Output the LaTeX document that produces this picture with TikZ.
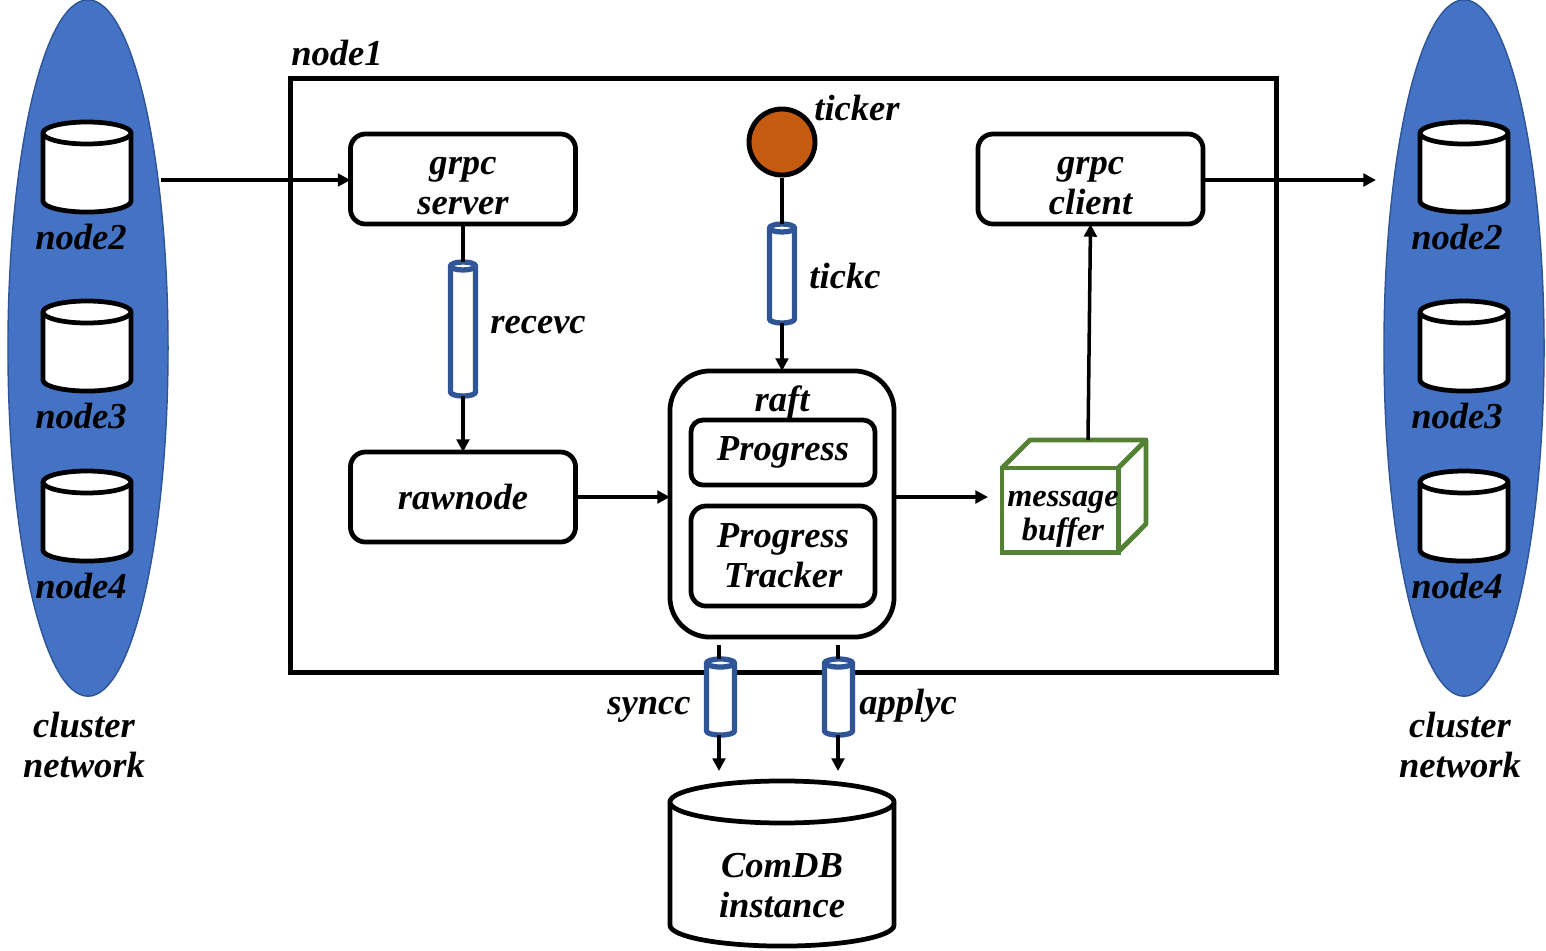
\documentclass[tikz,border=0pt]{standalone}
\usepackage{fontspec}
\setmainfont{Liberation Serif}
\usetikzlibrary{positioning,shapes.geometric,arrows.meta}
\definecolor{netblue}{HTML}{4472C4}
\definecolor{chanblue}{HTML}{2F5597}
\definecolor{tickorange}{HTML}{C55A11}
\definecolor{bufgreen}{HTML}{548235}
\tikzset{
  lbl/.style={font=\fontsize{10.4}{11.4}\selectfont\bfseries\itshape, align=center, inner sep=0pt},
  netcloud/.style={ellipse, draw=chanblue, fill=netblue, line width=0.4pt, inner sep=0pt, minimum width=1.6cm, minimum height=6.96cm},
  cylspot/.style={rectangle, inner sep=0pt, outer sep=0pt},
  dbline/.style={draw=black, fill=white, line width=1.35pt},
  chanline/.style={draw=chanblue, fill=white, line width=1.5pt},
  box/.style={rectangle, rounded corners=0.15cm, draw=black, line width=1.35pt, outer sep=0pt, lbl, minimum width=2.25cm, minimum height=0.9cm},
  cubeline/.style={draw=bufgreen, line width=1.4pt, line join=round},
  conn/.style={line width=1pt, draw=black},
  arr/.style={conn, -{Triangle[length=3.6pt,width=3.6pt]}},
}
% body of a cylinder over a named node: node, half width, cap radius, line style
\newcommand{\cylbody}[4]{
  \filldraw[#4] ([yshift=-#3]#1.north west) arc[start angle=180,end angle=0,x radius=#2,y radius=#3]
    -- ([yshift=#3]#1.south east) arc[start angle=0,end angle=-180,x radius=#2,y radius=#3] -- cycle;
  \draw[#4] ([yshift=-#3]#1.north west) arc[start angle=180,end angle=360,x radius=#2,y radius=#3];
}
\begin{document}
\begin{tikzpicture}[x=0.01cm,y=-0.01cm]
\useasboundingbox (0,0) rectangle (1546,950);
% outer box of the node
\node[draw, line width=1.4pt, minimum width=9.85cm, minimum height=5.93cm, inner sep=0pt] (node1) at (783.5,375.5) {};
\node[lbl] (node1lbl) at (337,53) {node1};

% the two cluster networks with their members
\foreach \side/\cx/\tx/\lx in {l/88/87/81, r/1464/1464/1457} {
    \node[netcloud] (net\side) at (\cx,348) {};
    \foreach \n/\y in {2/167, 3/346, 4/516} {
        \node[cylspot, minimum width=0.88cm, minimum height=0.9cm] (db\side\n) at (\tx,\y) {};
        \cylbody{db\side\n}{0.44cm}{0.11cm}{dbline}
        \node[lbl] (dbl\side\n) at (\lx,\y+70) {node\n};
    }
}
\node[lbl] (clusterl) at (84,745) {cluster\\network};
\node[lbl] (clusterr) at (1460,745) {cluster\\network};

% boxes
\node[box] (server) at (463,179) {};
\node[lbl] (serverlbl) at (463,186) {grpc\\server};
\node[box] (client) at (1090.5,179) {};
\node[lbl] (clientlbl) at (1090.5,186) {grpc\\client};
\node[box] (rawnode) at (463,497) {\raisebox{-1pt}{rawnode}};
\node[box, minimum width=2.24cm, minimum height=2.66cm, rounded corners=0.4cm] (raft) at (782,504) {};
\node[lbl] (raftlbl) at (782,402) {raft};
\node[box, minimum width=1.84cm, minimum height=0.65cm, rounded corners=0.12cm] (progress) at (783,452.5) {Progress};
\node[box, minimum width=1.84cm, minimum height=1cm, rounded corners=0.15cm] (tracker) at (783,556) {Progress\\Tracker};

% ticker
\node[circle, draw, fill=tickorange, line width=1.4pt, minimum size=0.66cm, inner sep=0pt] (ticker) at (782,142) {};
\node[lbl] (tickerlbl) at (857,108) {ticker};

% channels
\node[cylspot, minimum width=0.25cm, minimum height=1.34cm] (recevc) at (463,329) {};
\cylbody{recevc}{0.125cm}{0.04cm}{chanline}
\node[lbl] (recevclbl) at (538,325) {recevc};
\node[cylspot, minimum width=0.25cm, minimum height=0.99cm] (tickc) at (782,273.5) {};
\cylbody{tickc}{0.125cm}{0.04cm}{chanline}
\node[lbl] (tickclbl) at (845,276) {tickc};
\node[cylspot, minimum width=0.28cm, minimum height=0.76cm] (syncc) at (720.5,697) {};
\cylbody{syncc}{0.14cm}{0.04cm}{chanline}
\node[lbl] (syncclbl) at (649,710) {syncc};
\node[cylspot, minimum width=0.28cm, minimum height=0.76cm] (applyc) at (838.5,697) {};
\cylbody{applyc}{0.14cm}{0.04cm}{chanline}
\node[lbl] (applyclbl) at (908,706) {applyc};

% the database
\node[cylspot, minimum width=2.24cm, minimum height=1.65cm] (comdb) at (782,863.5) {};
\cylbody{comdb}{1.12cm}{0.21cm}{dbline}
\node[lbl] (comdblbl) at (782,886) {ComDB\\instance};

% message buffer, a box with two more faces
\node[rectangle, draw=bufgreen, line width=1.4pt, outer sep=0pt, minimum width=1.16cm, minimum height=0.84cm, inner sep=0pt] (buffer) at (1060,510) {};
\draw[cubeline] (buffer.north west) -- ++(28,-28) -- ++(116,0) -- ++(0,84) -- (buffer.south east);
\draw[cubeline] (buffer.north east) -- ++(28,-28);
\node[lbl, font=\fontsize{9.2}{9.7}\selectfont\bfseries\itshape] (bufferlbl) at (1063,519) {message\\buffer};

% free ends of the connectors
\coordinate (netout) at (161,180);
\coordinate (netin) at (1376,180);
\coordinate (bufin) at (988,497);
\coordinate (buftop) at (1088,440);
\coordinate (synctop) at (719,645);
\coordinate (syncend) at (719,771);
\coordinate (applytop) at (838,645);
\coordinate (applyend) at (838,771);

% connectors
\draw[arr] (netout) -- (server.west |- netout);
\draw[arr] (client.east |- netin) -- (netin);
\draw[conn] (server.south) -- (recevc.north);
\draw[arr] (recevc.south) -- (rawnode.north);
\draw[arr] (rawnode.east) -- (raft.west |- rawnode.east);
\draw[conn] (ticker.south) -- (tickc.north);
\draw[arr] (tickc.south) -- (raft.north);
\draw[arr] (raft.east |- bufin) -- (bufin);
\draw[arr] (buftop) -- (client.south);
\draw[conn] (synctop) -- (synctop |- syncc.north);
\draw[arr] (syncend |- syncc.south) -- (syncend);
\draw[conn] (applytop) -- (applytop |- applyc.north);
\draw[arr] (applyend |- applyc.south) -- (applyend);
\end{tikzpicture}
\end{document}
